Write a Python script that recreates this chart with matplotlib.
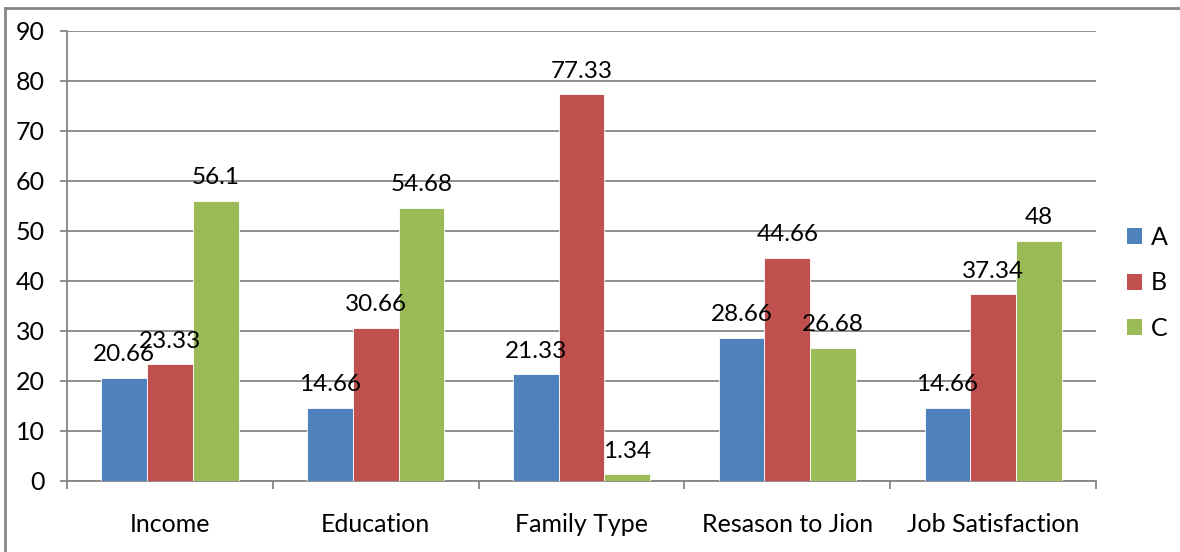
import matplotlib
matplotlib.use("Agg")
import matplotlib.pyplot as plt
from matplotlib.lines import Line2D
from matplotlib.patches import Patch
import numpy as np

# Chart data
categories = ["Income", "Education", "Family Type", "Resason to Jion", "Job Satisfaction"]
series_names = ["A", "B", "C"]
values_a = [20.66, 14.66, 21.33, 28.66, 14.66]
values_b = [23.33, 30.66, 77.33, 44.66, 37.34]
values_c = [56.1, 54.68, 1.34, 26.68, 48]
y_ticks = list(range(0, 100, 10))

colors = ["#4F81BD", "#C0504D", "#9BBB59"]
axis_color = "#868686"

plt.rcParams["font.family"] = ["Lato", "DejaVu Sans"]
FS = 18
FS_VAL = 17.5

fig = plt.figure(figsize=(11.8, 5.52), dpi=100)
ax = fig.add_axes([67 / 1180, 71 / 552, (1096 - 67) / 1180, 450 / 552])

x = np.arange(len(categories))
width = 1 / 4.5
all_series = [values_a, values_b, values_c]

for i, (vals, col) in enumerate(zip(all_series, colors)):
    pos = x + (i - 1) * width
    ax.bar(pos, vals, width, color=col, edgecolor="white", linewidth=0.6, zorder=3)
    for xp, v in zip(pos, vals):
        ax.annotate(f"{v:g}", xy=(xp, v), xytext=(0, 12), textcoords="offset points",
                    ha="center", va="baseline", fontsize=FS_VAL, color="black", zorder=4)

ax.set_xlim(-0.5, len(categories) - 0.5)
ax.set_ylim(0, 90)

# y axis
ax.set_yticks(y_ticks)
ax.tick_params(axis="y", length=5, width=1.3, color=axis_color, pad=11, labelsize=FS)
ax.grid(axis="y", color=axis_color, linewidth=1.3, zorder=0)

# x axis: labels at centers, tick marks at category boundaries
ax.set_xticks(x)
ax.set_xticklabels(categories)
ax.tick_params(axis="x", which="major", length=0, pad=23, labelsize=FS)
ax.set_xticks(np.arange(-0.5, len(categories)), minor=True)
ax.tick_params(axis="x", which="minor", length=6, width=1.3, color=axis_color)

for side in ["top", "right"]:
    ax.spines[side].set_visible(False)
for side in ["left", "bottom"]:
    ax.spines[side].set_color(axis_color)
    ax.spines[side].set_linewidth(1.3)

# legend
handles = [Patch(facecolor=c, edgecolor="none") for c in colors]
fig.legend(handles, series_names, loc="center left", bbox_to_anchor=(1127 / 1180, 1 - 283 / 552),
           frameon=False, fontsize=FS, handlelength=0.6, handleheight=0.6,
           handletextpad=0.35, labelspacing=0.9, borderpad=0, borderaxespad=0)

# outer chart border (only left and top visible in the crop)
fig.add_artist(Line2D([5 / 1180, 5 / 1180], [0, 1 - 8 / 552], transform=fig.transFigure,
                      color=axis_color, linewidth=2))
fig.add_artist(Line2D([5 / 1180, 1], [1 - 8 / 552, 1 - 8 / 552], transform=fig.transFigure,
                      color=axis_color, linewidth=2))

fig.savefig("out.png", dpi=100)
